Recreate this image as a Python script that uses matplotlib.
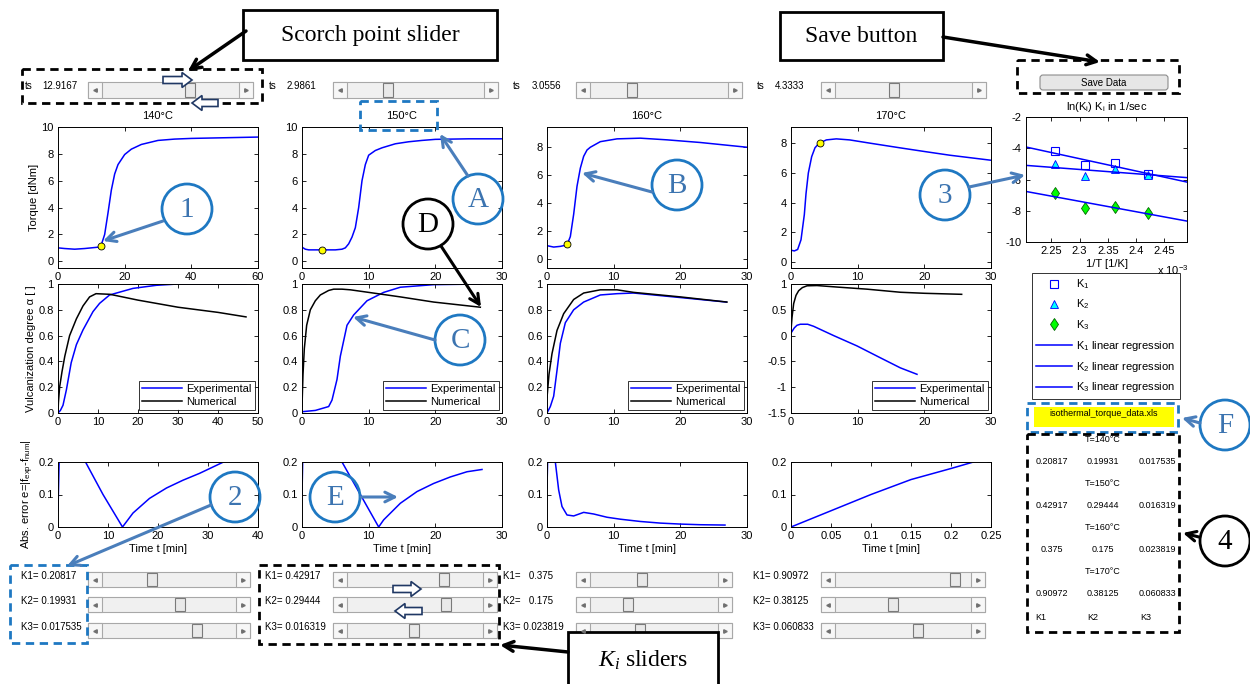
"""Importação de bibliotecas"""
import numpy as np
import matplotlib
matplotlib.use("Agg")
from matplotlib import pyplot as plt
from matplotlib import patches
from matplotlib.ticker import FuncFormatter

plt.rcParams['font.family'] = 'Liberation Sans'
plt.rcParams['mathtext.fontset'] = 'custom'
plt.rcParams['mathtext.rm'] = 'Liberation Sans'
plt.rcParams['mathtext.it'] = 'Liberation Serif:italic'
plt.rcParams['mathtext.bf'] = 'Liberation Sans:bold'


"""Dados lidos da figura"""
temperaturas = [140, 150, 160, 170]
ts_valores = [12.9167, 2.9861, 3.0556, 4.3333]
ts_max = [20, 10, 10, 10]  # faixa do slider = t_max/3

K1 = [0.20817, 0.42917, 0.375, 0.90972]
K2 = [0.19931, 0.29444, 0.175, 0.38125]
K3 = [0.017535, 0.016319, 0.023819, 0.060833]
pos_K1 = [0.37, 0.71, 0.41, 0.88]  # posição do cursor (fração)
pos_K2 = [0.58, 0.73, 0.30, 0.43]
pos_K3 = [0.71, 0.49, 0.39, 0.61]

# torque [dNm] x tempo [min]
t_torque1 = [0, 2, 5, 8, 10, 12, 12.9, 14, 15, 16, 17, 18, 20, 22, 25, 30, 35, 40, 50, 60]
torque1 = [1.0, 0.95, 0.9, 0.95, 1.0, 1.05, 1.15, 2.0, 3.6, 5.3, 6.5, 7.2, 7.95, 8.35, 8.7, 9.0, 9.1, 9.15, 9.2, 9.25]
t_torque2 = [0, 0.5, 1, 3, 5, 6, 6.5, 7, 7.5, 8, 8.5, 9, 9.5, 10, 11, 12, 14, 16, 18, 20, 25, 30]
torque2 = [1.05, 0.9, 0.85, 0.85, 0.85, 0.9, 1.0, 1.3, 1.8, 2.5, 4.0, 6.0, 7.2, 7.9, 8.25, 8.45, 8.75, 8.9, 9.0, 9.08, 9.12, 9.12]
t_torque3 = [0, 1, 2, 3, 3.5, 4, 4.5, 5, 5.5, 6, 6.5, 8, 10.5, 14, 18, 23, 30]
torque3 = [0.95, 0.85, 0.9, 1.0, 1.6, 3.2, 5.2, 6.5, 7.35, 7.8, 8.0, 8.4, 8.6, 8.65, 8.53, 8.34, 8.0]
t_torque4 = [0, 0.5, 1, 1.5, 2, 2.25, 2.6, 3.1, 3.6, 4.2, 5.3, 6.8, 8.8, 12, 16.3, 20, 23.8, 30]
torque4 = [0.8, 0.75, 0.85, 1.5, 3.2, 4.6, 6.0, 7.1, 7.7, 8.0, 8.23, 8.3, 8.23, 8.0, 7.7, 7.45, 7.2, 6.86]

# grau de vulcanização: experimental e numérico
t_exp1 = [0, 0.6, 1.25, 2.1, 3.3, 4.6, 6.25, 8.75, 10.4, 12.9, 18.75, 24.6, 30, 40, 47]
alfa_exp1 = [0, 0.02, 0.06, 0.18, 0.39, 0.53, 0.644, 0.786, 0.85, 0.915, 0.966, 0.99, 1.0, 1.0, 1.0]
t_num1 = [0, 0.1, 0.4, 1.0, 1.7, 2.9, 4.6, 6.25, 7.9, 9.5, 13, 20, 30, 40, 47]
alfa_num1 = [0, 0.08, 0.2, 0.32, 0.44, 0.6, 0.73, 0.83, 0.9, 0.925, 0.92, 0.875, 0.82, 0.78, 0.745]
t_exp2 = [0, 2, 4, 4.5, 5.25, 5.75, 6.75, 7.75, 9.75, 12.25, 14.75, 19.75, 27]
alfa_exp2 = [0.01, 0.02, 0.05, 0.1, 0.26, 0.44, 0.68, 0.76, 0.87, 0.935, 0.975, 0.995, 1.0]
t_num2 = [0, 0.15, 0.35, 0.7, 1.25, 2, 2.75, 4, 4.75, 6, 7.25, 10, 14.75, 19.75, 26.75]
alfa_num2 = [0.05, 0.3, 0.5, 0.68, 0.8, 0.87, 0.915, 0.95, 0.96, 0.96, 0.955, 0.935, 0.9, 0.86, 0.82]
t_exp3 = [0, 0.5, 1, 1.5, 2, 2.75, 4, 5.5, 8, 10.5, 13, 20, 26.9]
alfa_exp3 = [0, 0.05, 0.13, 0.33, 0.54, 0.7, 0.8, 0.86, 0.915, 0.925, 0.93, 0.895, 0.86]
t_num3 = [0, 0.3, 0.75, 1.5, 2.5, 4, 5.5, 8, 10.5, 13, 20, 27]
alfa_num3 = [0.12, 0.3, 0.46, 0.64, 0.77, 0.88, 0.93, 0.955, 0.955, 0.935, 0.9, 0.86]
t_exp4 = [0, 0.5, 0.9, 1.4, 2.5, 3.4, 6.4, 9.9, 13.4, 16.4, 18.9]
alfa_exp4 = [0.05, 0.15, 0.2, 0.22, 0.22, 0.18, 0.0, -0.2, -0.43, -0.625, -0.75]
t_num4 = [0, 0.15, 0.4, 0.75, 1.15, 1.7, 2.4, 3.9, 7, 11.4, 16.4, 20, 25.6]
alfa_num4 = [0.1, 0.35, 0.62, 0.78, 0.87, 0.93, 0.965, 0.97, 0.94, 0.9, 0.84, 0.82, 0.8]

# erro absoluto
t_erro1 = [0, 0.3, 1, 3, 5.5, 9, 12.9, 15, 18.3, 21.7, 25, 28.3, 33.1, 40]
erro1 = [0.05, 0.25, 0.3, 0.28, 0.2, 0.1, 0.0, 0.043, 0.088, 0.12, 0.144, 0.165, 0.2, 0.24]
t_erro2 = [0, 0.2, 1, 4, 6, 11.5, 12.25, 14.75, 17.25, 19.75, 22.25, 24.75, 27]
erro2 = [0.1, 0.3, 0.4, 0.3, 0.2, 0.0, 0.022, 0.073, 0.109, 0.134, 0.154, 0.17, 0.177]
t_erro3 = [0, 0.2, 0.8, 1.25, 1.75, 2.25, 3, 4, 5.5, 7, 9, 11, 14, 17, 20, 23, 26.7]
erro3 = [0.12, 0.3, 0.35, 0.2, 0.114, 0.063, 0.037, 0.034, 0.045, 0.04, 0.03, 0.024, 0.017, 0.012, 0.009, 0.007, 0.006]
t_erro4 = [0, 0.02, 0.05, 0.1, 0.15, 0.2, 0.228, 0.25]
erro4 = [0, 0.02, 0.05, 0.1, 0.146, 0.18, 0.2, 0.22]

lnK1 = [-5.66, -4.94, -5.07, -4.18]
lnK2 = [-5.70, -5.31, -5.80, -5.03]
lnK3 = [-8.13, -7.74, -7.83, -6.88]


"""Layout em pixels"""
W, H = 1250, 684
fig = plt.figure(figsize=(W / 100, H / 100), dpi=100)
fig.patch.set_facecolor('white')

def caixa(l, t, r, b):
    return [l / W, 1 - b / H, (r - l) / W, (b - t) / H]

fmt = FuncFormatter(lambda v, p: f'{v:g}')

def estilo(ax):
    ax.tick_params(direction='in', top=True, right=True, labelsize=8,
                   length=3, width=0.6, pad=3)
    for s in ax.spines.values():
        s.set_linewidth(0.7)
    ax.xaxis.set_major_formatter(fmt)
    ax.yaxis.set_major_formatter(fmt)

esq = [58, 302, 547, 791]
larg = 200
azul = '#0000ff'

"""Linha 1: torque"""
torques = [(t_torque1, torque1), (t_torque2, torque2), (t_torque3, torque3), (t_torque4, torque4)]
xmax1 = [60, 30, 30, 30]
ylims1 = [(-0.5, 10), (-0.5, 10), (-0.65, 9.45), (-0.4, 9.1)]
for i, (t, y) in enumerate(torques):
    ax = fig.add_axes(caixa(esq[i], 127, esq[i] + larg, 268))
    estilo(ax)
    ax.plot(t, y, color=azul, lw=1.1)
    ts = ts_valores[i]
    ax.plot(ts, np.interp(ts, t, y), 'o', mfc='#ffff00', mec='k', ms=5, mew=0.6)
    ax.set_xlim(0, xmax1[i])
    ax.set_xticks(np.arange(0, xmax1[i] + 1, 20 if i == 0 else 10))
    ax.set_yticks([0, 2, 4, 6, 8, 10])
    ax.set_ylim(*ylims1[i])
    ax.set_title(f'{temperaturas[i]}°C', fontsize=8, pad=6)
    if i == 0:
        ax.set_ylabel('Torque [dNm]', fontsize=8, labelpad=2)

"""Linha 2: grau de vulcanização"""
curvas = [(t_exp1, alfa_exp1, t_num1, alfa_num1), (t_exp2, alfa_exp2, t_num2, alfa_num2),
          (t_exp3, alfa_exp3, t_num3, alfa_num3), (t_exp4, alfa_exp4, t_num4, alfa_num4)]
xmax2 = [50, 30, 30, 30]
for i, (te, ae, tn, an) in enumerate(curvas):
    ax = fig.add_axes(caixa(esq[i], 284, esq[i] + larg, 413))
    estilo(ax)
    ax.plot(te, ae, color=azul, lw=1.1, label='Experimental')
    ax.plot(tn, an, color='k', lw=1.1, label='Numerical')
    ax.set_xlim(0, xmax2[i])
    ax.set_xticks(np.arange(0, xmax2[i] + 1, 10))
    if i == 3:
        ax.set_ylim(-1.5, 1)
        ax.set_yticks([-1.5, -1, -0.5, 0, 0.5, 1])
    else:
        ax.set_ylim(0, 1)
        ax.set_yticks([0, 0.2, 0.4, 0.6, 0.8, 1])
    leg = ax.legend(loc='lower right', fontsize=8, fancybox=False, edgecolor='k',
                    borderaxespad=0.25, handlelength=3.6, labelspacing=0.25,
                    borderpad=0.3, handletextpad=0.4)
    leg.get_frame().set_linewidth(0.7)
    if i == 0:
        ax.set_ylabel('Vulcanization degree α [ ]', fontsize=8, labelpad=2)

"""Linha 3: erro absoluto"""
erros = [(t_erro1, erro1), (t_erro2, erro2), (t_erro3, erro3), (t_erro4, erro4)]
xmax3 = [40, 30, 30, 0.25]
for i, (t, e) in enumerate(erros):
    ax = fig.add_axes(caixa(esq[i], 462, esq[i] + larg, 527))
    estilo(ax)
    ax.plot(t, e, color=azul, lw=1.1)
    ax.set_xlim(0, xmax3[i])
    if i == 3:
        ax.set_xticks([0, 0.05, 0.1, 0.15, 0.2, 0.25])
    else:
        ax.set_xticks(np.arange(0, xmax3[i] + 1, 10))
    ax.set_ylim(0, 0.2)
    ax.set_yticks([0, 0.1, 0.2])
    ax.set_xlabel('Time t [min]', fontsize=8, labelpad=2)
    if i == 0:
        ax.set_ylabel('Abs. error e=|f$_\\mathrm{exp}$-f$_\\mathrm{num}$|', fontsize=8, labelpad=2)

"""Gráfico de Arrhenius"""
inv_T = [1000 / (T + 273.15) for T in temperaturas]
ax = fig.add_axes(caixa(1026, 117, 1187, 242))
estilo(ax)
xlim_a = (2.205, 2.49)
h1, = ax.plot(inv_T, lnK1, 's', mfc='none', mec=azul, ms=6, mew=0.8, label='K$_1$')
h2, = ax.plot(inv_T, lnK2, '^', mfc='#00ffff', mec=azul, ms=6, mew=0.6, label='K$_2$')
h3, = ax.plot(inv_T, lnK3, 'd', mfc='#00ff00', mec='#006400', ms=6, mew=0.6, label='K$_3$')
retas = []
xx = np.array(xlim_a)
for j, lnK in enumerate([lnK1, lnK2, lnK3]):
    a, b = np.polyfit(inv_T, lnK, 1)
    r, = ax.plot(xx, a * xx + b, color=azul, lw=1.1, label=f'K$_{j + 1}$ linear regression')
    retas.append(r)
ax.set_xlim(*xlim_a)
ax.set_ylim(-10, -2)
ax.set_xticks([2.25, 2.3, 2.35, 2.4, 2.45])
ax.set_yticks([-10, -8, -6, -4, -2])
ax.set_xlabel('1/T [1/K]', fontsize=8, labelpad=2)
ax.set_title('ln(K$_\\mathrm{i}$) K$_\\mathrm{i}$ in 1/sec', fontsize=8, pad=5)
leg = fig.legend([h1, h2, h3] + retas, [h.get_label() for h in [h1, h2, h3] + retas],
                 loc='upper left', bbox_to_anchor=(1032 / W, 1 - 273 / H),
                 borderaxespad=0, fontsize=8, fancybox=False, edgecolor='k',
                 handlelength=3.2, labelspacing=0.62, borderpad=0.4, handletextpad=0.4)
leg.get_frame().set_linewidth(0.7)


"""Camada de sobreposição: controles e anotações"""
ov = fig.add_axes([0, 0, 1, 1], zorder=10)
ov.set_xlim(0, W)
ov.set_ylim(H, 0)
ov.axis('off')

def slider(x0, x1, y0, h, frac):
    b = 14
    ov.add_patch(patches.Rectangle((x0, y0), x1 - x0, h, fc='#f0f0f0', ec='#a8a8a8', lw=0.8))
    ov.add_patch(patches.Rectangle((x0, y0), b, h, fc='#f7f7f7', ec='#a8a8a8', lw=0.8))
    ov.add_patch(patches.Rectangle((x1 - b, y0), b, h, fc='#f7f7f7', ec='#a8a8a8', lw=0.8))
    ov.plot(x0 + b / 2, y0 + h / 2, marker='<', ms=2.5, color='#707070')
    ov.plot(x1 - b / 2, y0 + h / 2, marker='>', ms=2.5, color='#707070')
    xc = x0 + b + frac * (x1 - x0 - 2 * b)
    ov.add_patch(patches.Rectangle((xc - 5, y0 + 1), 10, h - 2, fc='#e9e9e9', ec='#7a7a7a', lw=0.8))

# sliders de ts
ts_x = [(88, 253), (333, 498), (576, 742), (821, 986)]
ts_lbl = [25, 269, 513, 757]
ts_val = [42, 287, 532, 775]
for i in range(4):
    slider(ts_x[i][0], ts_x[i][1], 82, 16, ts_valores[i] / ts_max[i])
    ov.text(ts_lbl[i], 86, 'ts', fontsize=7, va='center')
    ov.text(ts_val[i], 86, f'{ts_valores[i]:g}', fontsize=7, va='center')

# sliders de K
k_x = [(88, 250), (333, 497), (576, 732), (821, 985)]
k_lbl = [21, 265, 503, 753]
k_y = [572, 597, 623]
for i in range(4):
    for j, (K, pos) in enumerate([(K1, pos_K1), (K2, pos_K2), (K3, pos_K3)]):
        slider(k_x[i][0], k_x[i][1], k_y[j], 15, pos[i])
        ov.text(k_lbl[i], k_y[j] + 4, f'K{j + 1}= {K[i]:>7g}', fontsize=7, va='center')

# botão salvar
ov.add_patch(patches.FancyBboxPatch((1040, 75), 128, 15, boxstyle='round,pad=0,rounding_size=3',
                                    fc='#e6e6e6', ec='#8c8c8c', lw=0.8))
ov.text(1104, 82.5, 'Save Data', fontsize=7, ha='center', va='center')
ov.text(1157, 270, 'x 10$^{-3}$', fontsize=8, va='center')

# arquivo xls
ov.add_patch(patches.Rectangle((1034, 407), 140, 20, fc='#ffff00', ec='none'))
ov.text(1104, 414, 'isothermal_torque_data.xls', fontsize=6.5, ha='center', va='center')

# tabela de K
col_c = [1052, 1103, 1157]
for i in range(4):
    yT = 439 + 44 * i
    ov.text(1103, yT, f'T={temperaturas[i]}°C', fontsize=6.5, ha='center', va='center')
    for c, K in enumerate([K1, K2, K3]):
        ov.text(col_c[c], yT + 22, f'{K[i]:g}', fontsize=6.5, ha='center', va='center')
for c, x in enumerate([1035, 1087, 1140]):
    ov.text(x, 617, f'K{c + 1}', fontsize=6.5, va='center')

# caixas tracejadas
azul_anot = '#1e78c2'
tracejadas = [((22, 69, 262, 103), 'k'), ((360, 101, 437, 130), azul_anot),
              ((1017, 60, 1179, 93), 'k'), ((1027, 403, 1178, 432), azul_anot),
              ((1027, 434, 1179, 632), 'k'), ((10, 565, 87, 643), azul_anot),
              ((259, 565, 499, 644), 'k')]
for (l, t, r, b), cor in tracejadas:
    ov.add_patch(patches.Rectangle((l, t), r - l, b - t, fill=False, ec=cor, lw=2,
                                   ls=(0, (3, 2))))

# setas vazadas dos sliders
escuro = '#203864'
for x, y, dx in [(163, 80, 29), (218, 103, -26), (393, 589, 28), (422, 611, -27)]:
    ov.add_patch(patches.FancyArrow(x, y, dx, 0, width=7, head_width=15, head_length=10,
                                    length_includes_head=True, fc='white', ec=escuro, lw=1.2))

# caixas de texto
serif = 'Liberation Serif'
caixas = [((243, 10, 497, 60), 'Scorch point slider'), ((780, 12, 943, 60), 'Save button'),
          ((568, 632, 718, 686), '$K_i$ sliders')]
for (l, t, r, b), txt in caixas:
    ov.add_patch(patches.Rectangle((l, t), r - l, b - t, fc='white', ec='k', lw=2))
    ov.text((l + r) / 2, (t + b) / 2 + 1, txt, fontsize=17, family=serif, ha='center', va='center')
setas_pretas = [((246, 31), (188, 71)), ((943, 37), (1100, 62)), ((568, 652), (500, 645))]
for ini, fim in setas_pretas:
    ov.annotate('', xy=fim, xytext=ini,
                arrowprops=dict(arrowstyle='->,head_length=0.7,head_width=0.35', color='k', lw=2.5,
                                shrinkA=0, shrinkB=0))

# círculos de anotação
circulos = [('1', 187, 209, azul_anot, (163, 221), (103, 241)),
            ('A', 478, 199, azul_anot, (468, 176), (440, 134)),
            ('B', 677, 185, azul_anot, (652, 192), (582, 173)),
            ('3', 945, 195, azul_anot, (969, 187), (1025, 175)),
            ('D', 428, 224, 'k', (441, 246), (481, 307)),
            ('C', 460, 340, azul_anot, (435, 340), (353, 317)),
            ('2', 235, 497, azul_anot, (211, 505), (67, 566)),
            ('E', 335, 497, azul_anot, (361, 497), (398, 497)),
            ('F', 1225, 425, azul_anot, (1200, 423), (1182, 418)),
            ('4', 1225, 541, 'k', (1199, 537), (1183, 533))]
for txt, cx, cy, cor, ini, fim in circulos:
    ov.add_patch(patches.Circle((cx, cy), 25, fill=False, ec=cor, lw=2))
    ov.text(cx, cy + 1, txt, fontsize=21, family=serif, ha='center', va='center',
            color='#3c74b0' if cor != 'k' else 'k')
    ov.annotate('', xy=fim, xytext=ini,
                arrowprops=dict(arrowstyle='->,head_length=0.7,head_width=0.35',
                                color='#4a7ebb' if cor != 'k' else 'k', lw=2.2,
                                shrinkA=0, shrinkB=0))

fig.savefig('out.png', dpi=100)
